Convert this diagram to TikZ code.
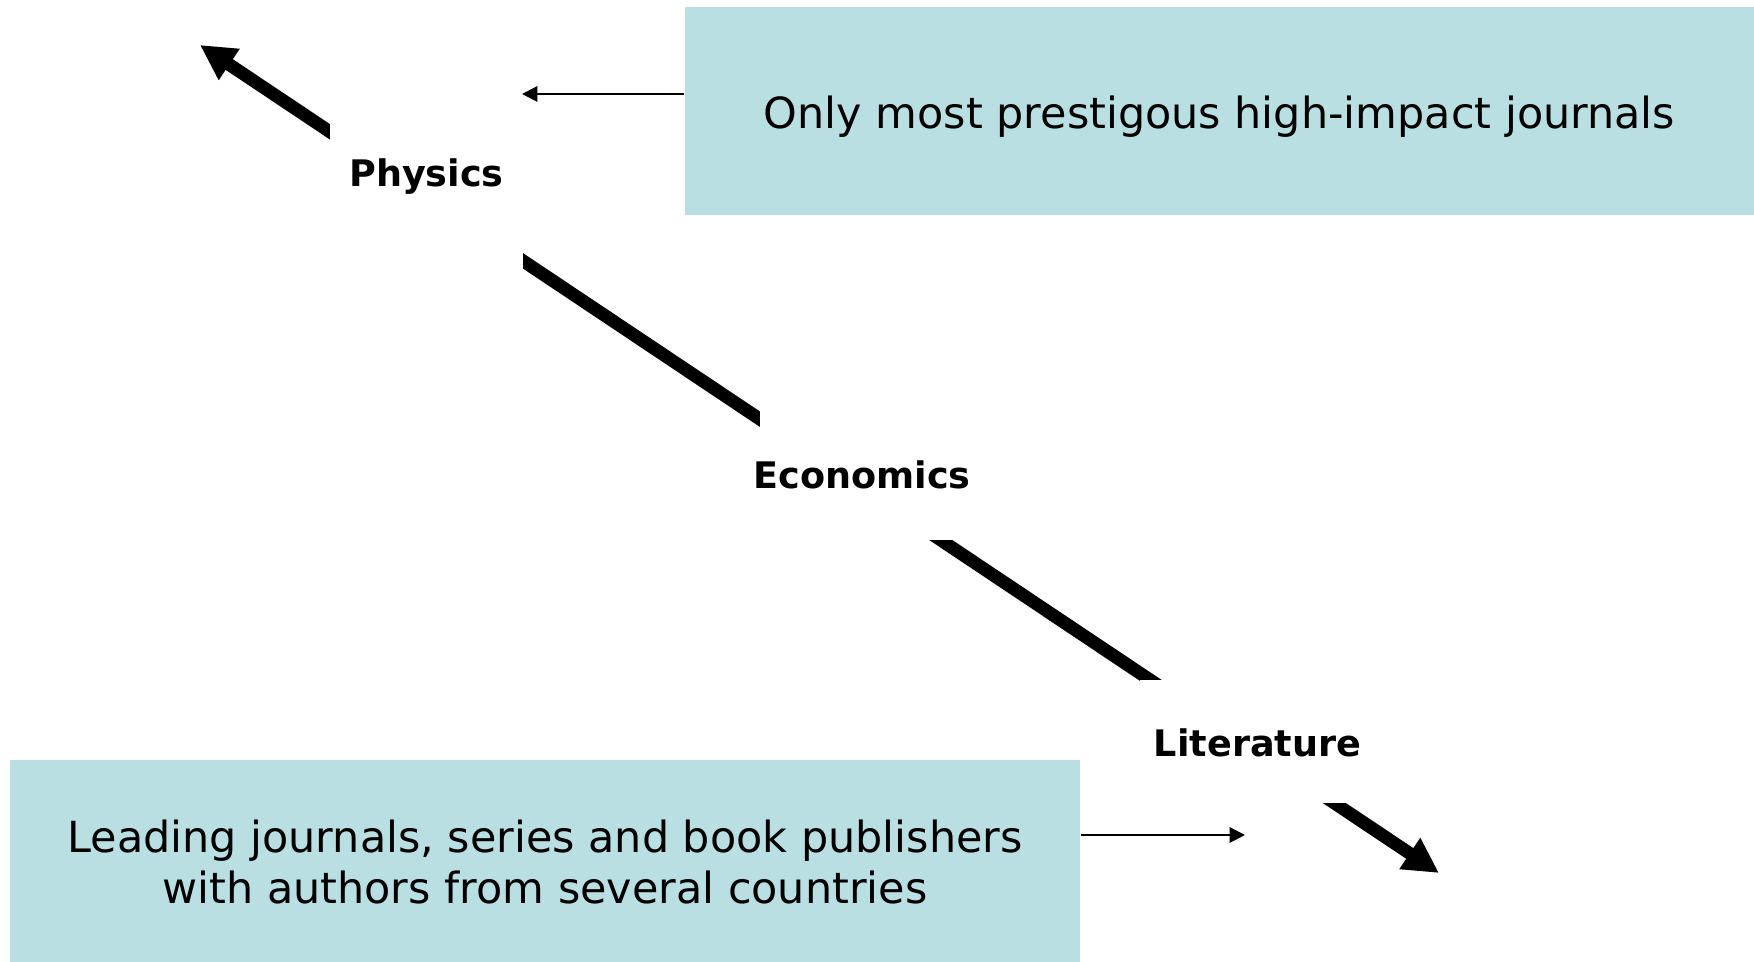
\documentclass[tikz,border=0pt]{standalone}
\usepackage{fontspec}
\setmainfont{DejaVu Sans}
\usetikzlibrary{arrows.meta}
\definecolor{boxteal}{HTML}{B9DFE2}
\newcommand{\picwidth}{1754}
\newcommand{\picheight}{962}

\tikzset{
  infobox/.style={fill=boxteal, inner sep=0pt, align=center, font=\fontsize{12.2}{14.7}\selectfont},
  field/.style={fill=white, inner sep=0pt, anchor=base, font=\bfseries\fontsize{10.4}{12}\selectfont},
  axis/.style={line width=3.66pt, {Triangle[length=10pt,width=10pt]}-{Triangle[length=10pt,width=10pt]}},
  pointer/.style={line width=0.6pt, -{Triangle[length=4.4pt,width=4.4pt]}}
}

\begin{document}
\begin{tikzpicture}[x=0.01cm, y=-0.01cm]
  \useasboundingbox (0,0) rectangle (\picwidth,\picheight);

  % === INFO BOXES ===
  \node[infobox, minimum width=10.69cm, minimum height=2.08cm, text height=12.7pt, text depth=2.9pt] (topbox) at (1219.5,111)
    {Only most prestigous high-impact journals};
  \node[infobox, minimum width=10.70cm, minimum height=2.03cm] (botbox) at (545,862)
    {Leading journals, series and book publishers\\with authors from several countries};

  % === AXIS ===
  \coordinate (upper) at (200,45);
  \coordinate (lower) at (1439,873);
  \draw[axis] (upper) -- (lower);

  % labels sit on the axis and mask it
  \node[field, minimum width=1.93cm, text height=0.7cm, text depth=0.85cm] (physics) at (426.5,187) {Physics};
  \node[field, inner xsep=-0.1cm, minimum width=2.04cm, text height=0.8cm, text depth=0.51cm] (economics) at (862,489) {Economics};
  \node[field, minimum width=2.35cm, text height=0.77cm, text depth=0.46cm] (literature) at (1257.5,757) {Literature};

  % === POINTERS ===
  \coordinate (phystip) at (522,94);
  \coordinate (littip) at (1245,835);
  \draw[pointer] (topbox.west |- phystip) -- (phystip);
  \draw[pointer] (botbox.east |- littip) -- (littip);
\end{tikzpicture}
\end{document}
